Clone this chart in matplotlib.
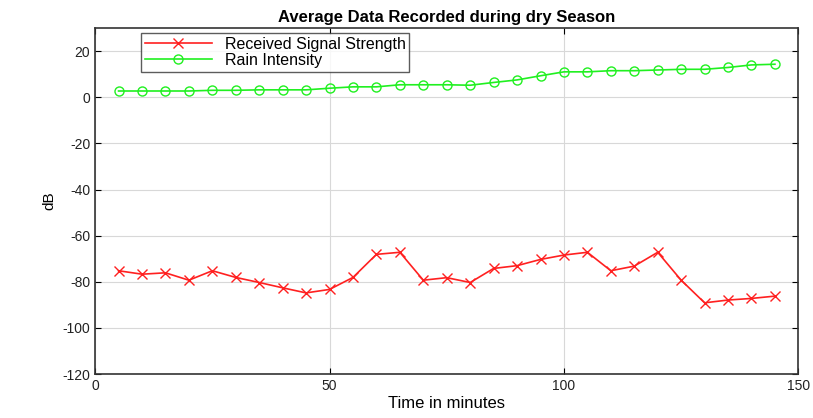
import numpy as np
import matplotlib.pyplot as plt

plt.rcParams['font.family'] = ['Liberation Sans', 'DejaVu Sans']
plt.rcParams['axes.unicode_minus'] = False

time_min = list(range(5, 150, 5))
signal_strength = [-75.2, -76.7, -76.1, -79.3, -75.2, -78.1, -80.3, -82.6, -84.8, -83.3,
                   -78.1, -68.1, -67.2, -79.3, -78.2, -80.3, -74.2, -73.0, -70.3, -68.4,
                   -67.2, -75.2, -73.2, -67.2, -79.3, -89.1, -87.9, -87.2, -86.2]
rain_intensity = [2.7, 2.7, 2.7, 2.7, 3.0, 3.0, 3.2, 3.2, 3.2, 3.9,
                  4.5, 4.5, 5.4, 5.4, 5.4, 5.2, 6.4, 7.5, 9.3, 11.0,
                  11.0, 11.5, 11.5, 11.8, 12.1, 12.1, 12.9, 14.0, 14.3]

fig = plt.figure(figsize=(8.13, 4.18), dpi=100)
ax = fig.add_axes([0.117, 0.105, 0.865, 0.828])

ax.plot(time_min, signal_strength, color='#ff2020', marker='x', markersize=6.5,
        linewidth=1.2, label='Received Signal Strength')
ax.plot(time_min, rain_intensity, color='#20f020', marker='o', markersize=6.5,
        markerfacecolor='none', linewidth=1.2, label='Rain Intensity')

ax.set_xlim(0, 150)
ax.set_ylim(-120, 30)
ax.set_xticks([0, 50, 100, 150])
ax.set_yticks(np.arange(-120, 21, 20))
ax.grid(True, color='#d8d8d8', linewidth=0.8)
ax.set_axisbelow(True)
ax.tick_params(direction='in', top=True, right=True, labelsize=10, length=4,
               labelcolor='#222222')
for s in ax.spines.values():
    s.set_linewidth(1.2)
    s.set_color('#333333')

ax.set_xlabel('Time in minutes', fontsize=12, labelpad=2)
ax.set_ylabel('dB', fontsize=11)
ax.set_title('Average Data Recorded during dry Season', fontsize=12, fontweight='bold', pad=4)

leg = ax.legend(loc='upper left', bbox_to_anchor=(0.058, 1.0), fontsize=11.5,
                frameon=True, fancybox=False, borderpad=0.25, labelspacing=0.05,
                handlelength=4.2, borderaxespad=0.3)
leg.get_frame().set_edgecolor('#333333')
leg.get_frame().set_linewidth(1.0)
for t in leg.get_texts():
    t.set_fontstretch('expanded')

plt.savefig('out.png', dpi=100)
